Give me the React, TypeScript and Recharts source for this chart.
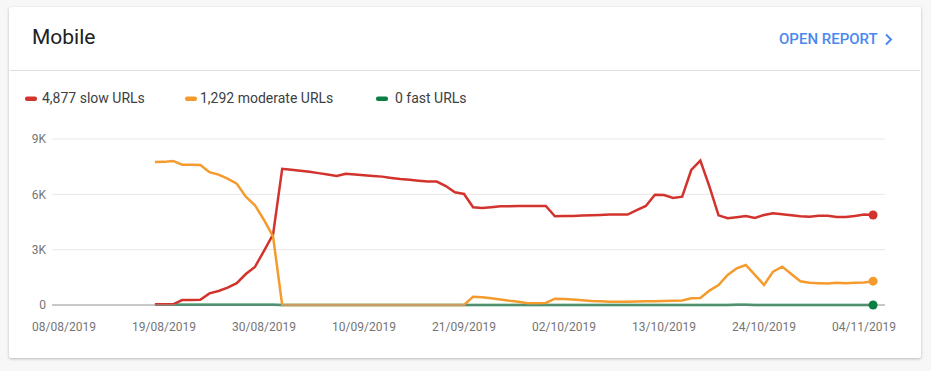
import React from 'react';
import { LineChart, Line, XAxis, YAxis, CartesianGrid } from 'recharts';

// day 0 = 08/08/2019
const firstDay = 10; // 18/08/2019
const tickDays = [0, 11, 22, 33, 44, 55, 66, 77, 88];
const tickLabels = [
  '08/08/2019',
  '19/08/2019',
  '30/08/2019',
  '10/09/2019',
  '21/09/2019',
  '02/10/2019',
  '13/10/2019',
  '24/10/2019',
  '04/11/2019',
];
const yTicks = [0, 3000, 6000, 9000];

const slowUrls = [
  40, 40, 40, 270, 270, 280, 630, 760, 940, 1180,
  1680, 2060, 2930, 3830, 7380, 7330, 7280, 7220, 7150, 7080,
  7000, 7120, 7080, 7040, 7000, 6960, 6890, 6830, 6790, 6740,
  6690, 6690, 6450, 6110, 6020, 5300, 5260, 5300, 5350, 5360,
  5370, 5370, 5370, 5370, 4810, 4820, 4830, 4850, 4870, 4880,
  4900, 4900, 4900, 5150, 5370, 5980, 5960, 5800, 5870, 7320,
  7830, 6420, 4860, 4700, 4760, 4830, 4720, 4880, 4970, 4920,
  4870, 4810, 4790, 4840, 4840, 4770, 4770, 4830, 4900, 4877,
];

const moderateUrls = [
  7750, 7760, 7810, 7610, 7600, 7590, 7200, 7070, 6850, 6580,
  5870, 5410, 4610, 3700, 0, 0, 0, 0, 0, 0,
  0, 0, 0, 0, 0, 0, 0, 0, 0, 0,
  0, 0, 0, 0, 0, 450, 420, 360, 300, 230,
  180, 100, 100, 110, 340, 320, 300, 260, 220, 200,
  180, 170, 180, 190, 200, 210, 220, 230, 250, 360,
  380, 780, 1085, 1630, 1990, 2170, 1630, 1085, 1810, 2080,
  1680, 1285, 1210, 1180, 1160, 1210, 1180, 1210, 1220, 1292,
];

const fastUrls = [
  10, 10, 10, 10, 10, 10, 10, 10, 10, 10,
  10, 10, 10, 10, 0, 0, 0, 0, 0, 0,
  0, 0, 0, 0, 0, 0, 0, 0, 0, 0,
  0, 0, 0, 0, 0, 0, 0, 0, 0, 0,
  0, 0, 0, 0, 0, 0, 0, 0, 0, 0,
  0, 0, 0, 0, 0, 0, 0, 0, 0, 0,
  0, 0, 0, 0, 20, 20, 0, 0, 0, 0,
  0, 0, 0, 0, 0, 0, 0, 0, 0, 0,
];

const COLORS = {
  slow: '#d2332c',
  moderate: '#f59a2d',
  fast: '#0b7f42',
};

const chartData = slowUrls.map((v, i) => ({
  day: firstDay + i,
  slow: v,
  moderate: moderateUrls[i],
  fast: fastUrls[i],
}));

const lastIndex = chartData.length - 1;

// only the last point gets a dot
const endDot = (color: string) => (props: any) => {
  if (props.index !== lastIndex) return <g key={`d-${props.index}`} />;
  return <circle key={`d-${props.index}`} cx={props.cx} cy={props.cy} r={4.5} fill={color} />;
};

const FONT = 'Roboto, "Noto Sans", sans-serif';

export default function App() {
  return (
    <div
      style={{
        position: 'absolute',
        left: 0,
        top: 0,
        width: 931,
        height: 371,
        background: '#f7f7f7',
        fontFamily: FONT,
        overflow: 'hidden',
      }}
    >
      {/* card */}
      <div
        style={{
          position: 'absolute',
          left: 9,
          top: 7,
          width: 912,
          height: 351,
          background: '#fff',
          borderRadius: 2,
          boxShadow: '0 1px 3px rgba(0,0,0,0.25)',
        }}
      />

      {/* header + legend */}
      <svg
        width={931}
        height={120}
        style={{ position: 'absolute', left: 0, top: 0, fontFamily: FONT }}
      >
        <text x={32} y={44.3} fontSize={21} fill="#202124">
          Mobile
        </text>
        <text x={779} y={44.3} fontSize={15} fontWeight={500} fill="#4a88f0">
          OPEN REPORT
        </text>
        <path d="M886 34.5 L891 39.5 L886 44.5" fill="none" stroke="#4a88f0" strokeWidth={2} />
        <line x1={10} x2={920} y1={70.5} y2={70.5} stroke="#e0e0e0" />

        <rect x={25} y={96.5} width={12} height={4.5} rx={2} fill={COLORS.slow} />
        <text x={42} y={102.7} fontSize={14} fill="#3c4043">
          4,877 slow URLs
        </text>
        <rect x={185} y={96.5} width={12} height={4.5} rx={2} fill={COLORS.moderate} />
        <text x={200} y={102.7} fontSize={14} fill="#3c4043">
          1,292 moderate URLs
        </text>
        <rect x={376} y={96.5} width={12} height={4.5} rx={2} fill={COLORS.fast} />
        <text x={395} y={102.7} fontSize={14} fill="#3c4043">
          0 fast URLs
        </text>
      </svg>

      <div style={{ position: 'absolute', left: 0, top: 120 }}>
        <LineChart
          width={931}
          height={220}
          data={chartData}
          margin={{ top: 19, right: 46, left: 0, bottom: 5 }}
        >
          <CartesianGrid vertical={false} stroke="#e8e8e8" />
          <XAxis
            dataKey="day"
            type="number"
            domain={[-1.32, 90.31]}
            allowDataOverflow
            ticks={tickDays}
            interval={0}
            tickFormatter={(d: number) => tickLabels[tickDays.indexOf(d)] ?? ''}
            tickLine={false}
            tickSize={0}
            tickMargin={17}
            height={30}
            axisLine={{ stroke: '#9e9e9e' }}
            tick={{ fontSize: 12, fill: '#757575', fontFamily: FONT }}
          />
          <YAxis
            domain={[0, 9000]}
            ticks={yTicks}
            interval={0}
            width={52}
            axisLine={false}
            tickLine={false}
            tickSize={0}
            tickMargin={6}
            tickFormatter={(v: number) => (v === 0 ? '0' : `${v / 1000}K`)}
            tick={{ fontSize: 12, fill: '#757575', fontFamily: FONT }}
          />
          <Line
            type="linear"
            dataKey="fast"
            stroke={COLORS.fast}
            strokeWidth={2.5}
            dot={endDot(COLORS.fast)}
            activeDot={false}
            isAnimationActive={false}
          />
          <Line
            type="linear"
            dataKey="slow"
            stroke={COLORS.slow}
            strokeWidth={2.5}
            dot={endDot(COLORS.slow)}
            activeDot={false}
            isAnimationActive={false}
          />
          <Line
            type="linear"
            dataKey="moderate"
            stroke={COLORS.moderate}
            strokeWidth={2.5}
            dot={endDot(COLORS.moderate)}
            activeDot={false}
            isAnimationActive={false}
          />
        </LineChart>
      </div>
    </div>
  );
}
